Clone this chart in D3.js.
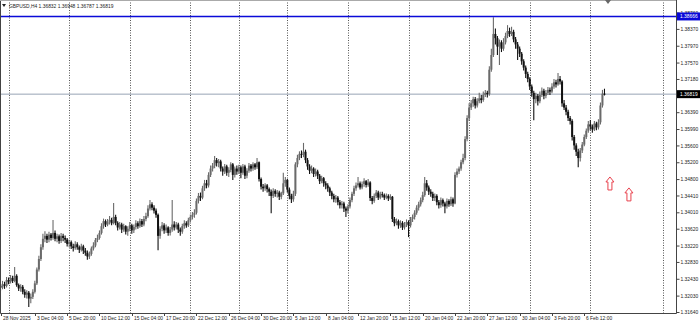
<!DOCTYPE html>
<html><head><meta charset="utf-8">
<script src="https://cdn.jsdelivr.net/npm/d3@7"></script>
<style>html,body{margin:0;padding:0;background:#fff;overflow:hidden}</style>
</head><body><svg id="c" width="700" height="326"></svg>
<script>
const symbol = "GBPUSD,H4";
const firstBarTime = "2025-11-28T08:00:00Z";
const holidays = ["2025-12-25", "2026-01-01"];
const firstOpen = 1.3226;
const lastOpen = 1.36832;
const closes = [
1.3222,1.3230,1.3226,1.3240,1.3236,1.3245,1.3238,1.3250,1.3228,1.3220,
1.3224,1.3212,1.3205,1.3210,1.3196,1.3200,1.3212,1.3232,1.3265,1.3290,
1.3318,1.3338,1.3345,1.3336,1.3348,1.3340,1.3352,1.3338,1.3344,1.3333,
1.3345,1.3340,1.3336,1.3326,1.3330,1.3320,1.3316,1.3325,1.3318,1.3312,
1.3320,1.3310,1.3305,1.3296,1.3302,1.3315,1.3322,1.3335,1.3340,1.3352,
1.3368,1.3380,1.3372,1.3378,1.3383,1.3375,1.3390,1.3376,1.3365,1.3372,
1.3360,1.3368,1.3355,1.3362,1.3370,1.3358,1.3366,1.3375,1.3368,1.3380,
1.3372,1.3385,1.3392,1.3410,1.3420,1.3412,1.3405,1.3395,1.3345,1.3362,
1.3370,1.3358,1.3365,1.3352,1.3360,1.3372,1.3365,1.3372,1.3360,1.3355,
1.3368,1.3375,1.3370,1.3382,1.3390,1.3395,1.3400,1.3428,1.3440,1.3436,
1.3458,1.3470,1.3465,1.3490,1.3505,1.3512,1.3525,1.3518,1.3522,1.3505,
1.3498,1.3510,1.3495,1.3502,1.3515,1.3490,1.3505,1.3498,1.3508,1.3495,
1.3510,1.3488,1.3500,1.3512,1.3505,1.3515,1.3508,1.3520,1.3480,1.3462,
1.3458,1.3465,1.3456,1.3450,1.3440,1.3452,1.3445,1.3448,1.3438,1.3446,
1.3470,1.3478,1.3455,1.3440,1.3432,1.3445,1.3515,1.3530,1.3540,1.3538,
1.3545,1.3525,1.3510,1.3500,1.3505,1.3492,1.3498,1.3488,1.3475,1.3482,
1.3470,1.3465,1.3458,1.3448,1.3440,1.3432,1.3436,1.3425,1.3418,1.3422,
1.3410,1.3405,1.3415,1.3430,1.3445,1.3458,1.3465,1.3470,1.3460,1.3468,
1.3475,1.3466,1.3472,1.3435,1.3428,1.3440,1.3448,1.3436,1.3444,1.3442,
1.3436,1.3440,1.3434,1.3438,1.3385,1.3375,1.3380,1.3370,1.3376,1.3365,
1.3372,1.3378,1.3370,1.3385,1.3390,1.3400,1.3412,1.3420,1.3430,1.3442,
1.3470,1.3460,1.3450,1.3445,1.3435,1.3440,1.3425,1.3418,1.3430,1.3422,
1.3415,1.3428,1.3420,1.3432,1.3422,1.3490,1.3498,1.3505,1.3520,1.3530,
1.3575,1.3625,1.3650,1.3660,1.3670,1.3655,1.3665,1.3672,1.3668,1.3680,
1.3685,1.3682,1.3740,1.3775,1.3825,1.3815,1.3795,1.3805,1.3790,1.3805,
1.3820,1.3832,1.3825,1.3830,1.3812,1.3800,1.3790,1.3778,1.3760,1.3745,
1.3730,1.3718,1.3700,1.3685,1.3670,1.3678,1.3665,1.3680,1.3690,1.3678,
1.3685,1.3692,1.3688,1.3700,1.3710,1.3705,1.3718,1.3712,1.3660,1.3650,
1.3640,1.3625,1.3618,1.3580,1.3560,1.3545,1.3530,1.3548,1.3562,1.3580,
1.3595,1.3610,1.3605,1.3598,1.3612,1.3603,1.3615,1.3655,1.3683,1.36819];
const highs = [
1.3232,1.3238,1.3236,1.3247,1.3246,1.3252,1.3250,1.3271,1.3254,1.3232,
1.3230,1.3228,1.3218,1.3216,1.3214,1.3208,1.3218,1.3238,1.3270,1.3298,
1.3325,1.3350,1.3356,1.3350,1.3355,1.3352,1.3383,1.3358,1.3350,1.3348,
1.3352,1.3350,1.3346,1.3340,1.3336,1.3334,1.3326,1.3332,1.3330,1.3322,
1.3326,1.3324,1.3316,1.3310,1.3308,1.3320,1.3330,1.3340,1.3348,1.3358,
1.3375,1.3386,1.3384,1.3385,1.3392,1.3388,1.3423,1.3395,1.3380,1.3378,
1.3376,1.3374,1.3370,1.3368,1.3378,1.3374,1.3372,1.3382,1.3380,1.3386,
1.3385,1.3392,1.3400,1.3418,1.3430,1.3425,1.3418,1.3410,1.3398,1.3368,
1.3378,1.3375,1.3372,1.3368,1.3366,1.3430,1.3380,1.3378,1.3376,1.3365,
1.3374,1.3382,1.3380,1.3388,1.3396,1.3402,1.3408,1.3434,1.3447,1.3448,
1.3464,1.3478,1.3478,1.3496,1.3512,1.3518,1.3535,1.3530,1.3528,1.3526,
1.3510,1.3516,1.3514,1.3508,1.3520,1.3518,1.3510,1.3512,1.3514,1.3512,
1.3516,1.3514,1.3506,1.3518,1.3516,1.3520,1.3518,1.3530,1.3522,1.3484,
1.3468,1.3470,1.3468,1.3460,1.3455,1.3458,1.3456,1.3454,1.3452,1.3450,
1.3495,1.3485,1.3480,1.3460,1.3445,1.3452,1.3520,1.3538,1.3546,1.3548,
1.3566,1.3550,1.3530,1.3515,1.3512,1.3508,1.3505,1.3502,1.3492,1.3488,
1.3485,1.3475,1.3470,1.3462,1.3452,1.3445,1.3442,1.3440,1.3430,1.3428,
1.3426,1.3415,1.3420,1.3436,1.3450,1.3464,1.3472,1.3485,1.3474,1.3474,
1.3482,1.3478,1.3480,1.3475,1.3440,1.3446,1.3454,1.3452,1.3450,1.3450,
1.3446,1.3446,1.3444,1.3444,1.3440,1.3390,1.3386,1.3384,1.3382,1.3380,
1.3378,1.3384,1.3382,1.3390,1.3396,1.3406,1.3418,1.3426,1.3436,1.3450,
1.3485,1.3478,1.3465,1.3456,1.3450,1.3446,1.3444,1.3430,1.3436,1.3434,
1.3426,1.3434,1.3432,1.3438,1.3436,1.3496,1.3505,1.3510,1.3526,1.3540,
1.3582,1.3632,1.3660,1.3668,1.3676,1.3675,1.3672,1.3685,1.3680,1.3688,
1.3692,1.3690,1.3748,1.3790,1.3865,1.3838,1.3820,1.3812,1.3810,1.3815,
1.3828,1.3846,1.3840,1.3842,1.3835,1.3818,1.3806,1.3795,1.3782,1.3765,
1.3750,1.3735,1.3722,1.3705,1.3690,1.3685,1.3682,1.3688,1.3698,1.3695,
1.3692,1.3699,1.3698,1.3708,1.3718,1.3716,1.3732,1.3725,1.3715,1.3668,
1.3656,1.3645,1.3630,1.3622,1.3585,1.3565,1.3552,1.3554,1.3568,1.3586,
1.3600,1.3618,1.3620,1.3610,1.3618,1.3616,1.3622,1.3662,1.3692,1.36948];
const lows = [
1.3214,1.3218,1.3219,1.3222,1.3230,1.3232,1.3233,1.3235,1.3224,1.3214,
1.3212,1.3206,1.3198,1.3196,1.3176,1.3185,1.3195,1.3208,1.3228,1.3260,
1.3285,1.3312,1.3330,1.3328,1.3330,1.3334,1.3336,1.3332,1.3330,1.3326,
1.3328,1.3332,1.3328,1.3320,1.3318,1.3314,1.3308,1.3312,1.3312,1.3304,
1.3308,1.3302,1.3298,1.3288,1.3290,1.3298,1.3310,1.3318,1.3330,1.3336,
1.3348,1.3362,1.3366,1.3368,1.3372,1.3370,1.3372,1.3370,1.3358,1.3360,
1.3352,1.3355,1.3348,1.3345,1.3356,1.3350,1.3352,1.3360,1.3362,1.3364,
1.3366,1.3368,1.3380,1.3388,1.3405,1.3406,1.3398,1.3388,1.3311,1.3338,
1.3356,1.3350,1.3352,1.3345,1.3346,1.3355,1.3358,1.3360,1.3352,1.3345,
1.3350,1.3362,1.3364,1.3366,1.3378,1.3384,1.3388,1.3396,1.3422,1.3428,
1.3432,1.3452,1.3458,1.3460,1.3485,1.3498,1.3506,1.3510,1.3508,1.3498,
1.3488,1.3492,1.3488,1.3485,1.3496,1.3478,1.3484,1.3490,1.3492,1.3482,
1.3490,1.3480,1.3482,1.3495,1.3498,1.3500,1.3502,1.3504,1.3474,1.3455,
1.3450,1.3452,1.3448,1.3440,1.3399,1.3435,1.3438,1.3436,1.3430,1.3432,
1.3442,1.3462,1.3448,1.3432,1.3423,1.3426,1.3440,1.3508,1.3525,1.3530,
1.3532,1.3518,1.3502,1.3492,1.3494,1.3485,1.3486,1.3480,1.3468,1.3470,
1.3462,1.3456,1.3450,1.3440,1.3432,1.3425,1.3424,1.3418,1.3410,1.3410,
1.3402,1.3390,1.3398,1.3410,1.3425,1.3440,1.3452,1.3460,1.3455,1.3456,
1.3462,1.3460,1.3462,1.3428,1.3420,1.3424,1.3435,1.3430,1.3432,1.3436,
1.3430,1.3432,1.3428,1.3430,1.3378,1.3368,1.3370,1.3362,1.3364,1.3359,
1.3360,1.3366,1.3342,1.3365,1.3378,1.3384,1.3395,1.3405,1.3415,1.3425,
1.3438,1.3452,1.3442,1.3438,1.3428,1.3428,1.3418,1.3410,1.3412,1.3415,
1.3399,1.3410,1.3414,1.3416,1.3414,1.3420,1.3484,1.3492,1.3500,1.3515,
1.3525,1.3570,1.3618,1.3644,1.3652,1.3648,1.3650,1.3660,1.3660,1.3664,
1.3675,1.3674,1.3678,1.3735,1.3770,1.3800,1.3775,1.3751,1.3782,1.3785,
1.3800,1.3815,1.3818,1.3820,1.3805,1.3790,1.3763,1.3770,1.3752,1.3738,
1.3720,1.3710,1.3692,1.3676,1.3620,1.3660,1.3655,1.3660,1.3675,1.3670,
1.3672,1.3680,1.3680,1.3684,1.3695,1.3698,1.3702,1.3705,1.3652,1.3644,
1.3632,1.3618,1.3610,1.3572,1.3550,1.3535,1.3508,1.3522,1.3542,1.3558,
1.3575,1.3590,1.3597,1.3590,1.3594,1.3596,1.3598,1.3610,1.3650,1.36787];
const yTicks = [1.38760,1.38370,1.37970,1.37570,1.37180,1.36390,1.35990,1.35600,
  1.35200,1.34800,1.34410,1.34010,1.33620,1.33220,1.32830,1.32430,1.32030,1.31640];
const xLabels = ["28 Nov 2025","3 Dec 04:00","5 Dec 20:00","10 Dec 12:00","15 Dec 04:00",
  "17 Dec 20:00","22 Dec 12:00","26 Dec 04:00","30 Dec 20:00","5 Jan 12:00","8 Jan 04:00",
  "12 Jan 20:00","15 Jan 12:00","20 Jan 04:00","22 Jan 20:00","27 Jan 12:00","30 Jan 04:00",
  "3 Feb 20:00","6 Feb 12:00"];
const resistanceLevel = 1.38666;
const upArrows = [{bar: 301.7, price: 1.3485}, {bar: 311.1, price: 1.3459}];

// ---- build bars with trading calendar ----
const n = closes.length;
const times = [];
{
  let t = new Date(firstBarTime);
  while (times.length < n) {
    const day = t.getUTCDay();
    const ds = t.toISOString().slice(0, 10);
    if (day !== 0 && day !== 6 && !holidays.includes(ds)) times.push(new Date(t));
    t = new Date(t.getTime() + 4 * 3600 * 1000);
  }
}
const bars = closes.map((c, i) => ({
  i, t: times[i],
  o: i === 0 ? firstOpen : (i === n - 1 ? lastOpen : closes[i - 1]),
  h: highs[i], l: lows[i], c
}));

const W = 700, H = 326, plotR = 676, plotB = 313;
const svg = d3.select("#c");
const x = d3.scaleLinear().domain([0, 300]).range([0.5, 606.5]);
const y = d3.scaleLinear().domain([1.31640, 1.38760]).range([312, 12.5]);
const font = "'Liberation Sans', Arial, sans-serif";

svg.append("rect").attr("width", W).attr("height", H).attr("fill", "#fff");

// grid (week starts)
const gridIdx = bars.filter(b => b.t.getUTCDay() === 1 && b.t.getUTCHours() === 0).map(b => b.i);
gridIdx.push(gridIdx[gridIdx.length - 1] + 36);
svg.append("g").selectAll("line").data(gridIdx).join("line")
  .attr("x1", d => Math.round(x(d)) + 0.5).attr("x2", d => Math.round(x(d)) + 0.5)
  .attr("y1", 0).attr("y2", plotB)
  .attr("stroke", "#555").attr("stroke-width", 1).attr("stroke-dasharray", "1,1.5");

// bid line
const lastClose = closes[n - 1];
svg.append("line").attr("x1", 0).attr("x2", plotR).attr("y1", y(lastClose)).attr("y2", y(lastClose))
  .attr("stroke", "#98a4b4").attr("stroke-width", 1);

// bars
const gb = svg.append("g");
gb.selectAll("line").data(bars).join("line")
  .attr("x1", d => x(d.i)).attr("x2", d => x(d.i))
  .attr("y1", d => y(d.h)).attr("y2", d => y(d.l))
  .attr("stroke", d => d.c >= d.o ? "#6a6a6a" : "#111").attr("stroke-width", 1.1);
gb.selectAll("rect").data(bars).join("rect")
  .attr("x", d => x(d.i) - 1).attr("width", 2)
  .attr("y", d => Math.min(y(d.o), y(d.c)))
  .attr("height", d => Math.max(1, Math.abs(y(d.o) - y(d.c))))
  .attr("fill", d => d.c >= d.o ? "#6a6a6a" : "#111");

// resistance line
svg.append("line").attr("x1", 0).attr("x2", plotR).attr("y1", y(resistanceLevel)).attr("y2", y(resistanceLevel))
  .attr("stroke", "#0a0ad8").attr("stroke-width", 1.6);

// arrows
svg.append("g").selectAll("path").data(upArrows).join("path")
  .attr("d", d => {
    const cx = x(d.bar), ty = y(d.price);
    return `M${cx},${ty} L${cx + 4},${ty + 5} L${cx + 2},${ty + 5} L${cx + 2},${ty + 13} L${cx - 2},${ty + 13} L${cx - 2},${ty + 5} L${cx - 4},${ty + 5} Z`;
  })
  .attr("fill", "#fff").attr("stroke", "#e8404c").attr("stroke-width", 1);

// frame
svg.append("path").attr("d", `M0.5,0 V${plotB + 0.5} H${plotR + 0.5} V0`)
  .attr("fill", "none").attr("stroke", "#444").attr("stroke-width", 1);
svg.append("line").attr("x1", 0).attr("x2", plotR).attr("y1", 0.5).attr("y2", 0.5)
  .attr("stroke", "#aaa").attr("stroke-width", 1);

// y axis
const ya = svg.append("g").attr("transform", `translate(${plotR + 0.5},0)`)
  .call(d3.axisRight(y).tickValues(yTicks).tickSize(3).tickFormat(d3.format(".5f")));
ya.select(".domain").remove();
ya.selectAll("line").attr("stroke", "#444");
ya.selectAll("text").attr("x", 4).attr("font-family", font).attr("font-size", 4.9).attr("fill", "#222");

// price boxes
function priceBox(v, fill) {
  const g = svg.append("g");
  g.append("rect").attr("x", plotR + 1).attr("y", y(v) - 4).attr("width", 24).attr("height", 8).attr("fill", fill);
  g.append("text").attr("x", plotR + 4).attr("y", y(v)).attr("dy", "0.34em")
    .attr("font-family", font).attr("font-size", 4.9).attr("fill", "#fff").text(d3.format(".5f")(v));
}
priceBox(resistanceLevel, "#0a0ad8");
priceBox(lastClose, "#000");

// x axis labels
const fmt = d3.utcFormat("%-d %b %H:%M");
const labelIdx = xLabels.map((s, k) => k === 0 ? 0 : bars.findIndex(b => fmt(b.t) === s));
const xa = svg.append("g");
xa.selectAll("line").data(labelIdx).join("line")
  .attr("x1", d => Math.round(x(d)) + 0.5).attr("x2", d => Math.round(x(d)) + 0.5)
  .attr("y1", plotB).attr("y2", plotB + 3).attr("stroke", "#444");
xa.selectAll("text").data(xLabels).join("text")
  .attr("x", (d, k) => Math.round(x(labelIdx[k])) + 2).attr("y", 320)
  .attr("font-family", font).attr("font-size", 4.9).attr("fill", "#222").text(d => d);

// header
svg.append("path").attr("d", "M2,4 L6,4 L4,7 Z").attr("fill", "#222");
const last = bars[n - 1];
svg.append("text").attr("x", 9).attr("y", 7.5).attr("font-family", font).attr("font-size", 4.9).attr("fill", "#222")
  .text(`${symbol}  ${[last.o, last.h, last.l, last.c].map(d3.format(".5f")).join(" ")}`);

// shift marker
svg.append("path").attr("d", "M605,0 L611,0 L608,4 Z").attr("fill", "#666");
</script></body></html>
